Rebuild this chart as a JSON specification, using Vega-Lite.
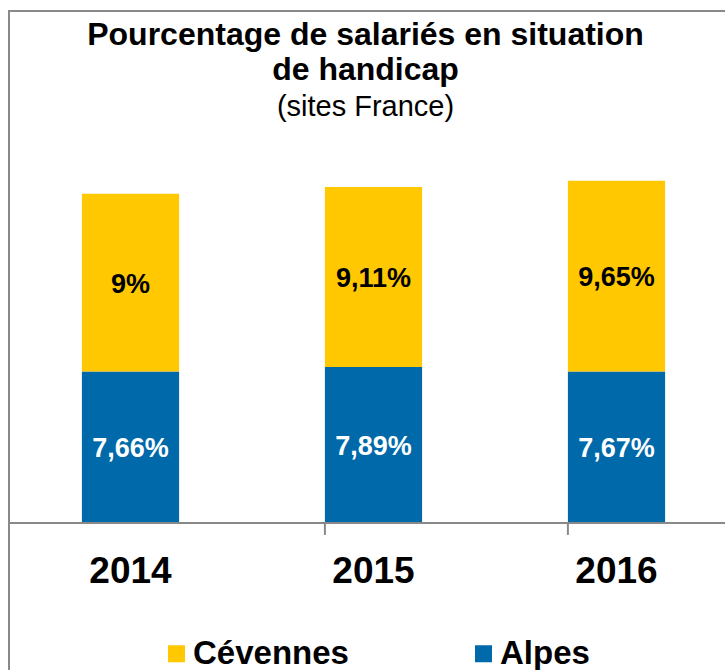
{
  "$schema": "https://vega.github.io/schema/vega-lite/v6.json",
  "autosize": {"type": "none"},
  "padding": {"left": 9, "top": 11, "right": 0, "bottom": 0},
  "width": 729,
  "height": 690,
  "background": "white",
  "config": {
    "font": "Liberation Sans",
    "view": {"stroke": "#898989", "strokeWidth": 2}
  },
  "title": {
    "text": ["Pourcentage de salariés en situation", "de handicap"],
    "subtitle": "(sites France)",
    "fontSize": 32,
    "fontWeight": "bold",
    "color": "black",
    "lineHeight": 35,
    "subtitleFontSize": 29,
    "subtitleFontWeight": "normal",
    "subtitleColor": "black",
    "subtitlePadding": 6,
    "anchor": "middle",
    "frame": "group",
    "offset": -112,
    "dx": -8
  },
  "data": {
    "values": [
      {"year": "2014", "serie": "Alpes", "value": 7.66},
      {"year": "2014", "serie": "Cévennes", "value": 9},
      {"year": "2015", "serie": "Alpes", "value": 7.89},
      {"year": "2015", "serie": "Cévennes", "value": 9.11},
      {"year": "2016", "serie": "Alpes", "value": 7.67},
      {"year": "2016", "serie": "Cévennes", "value": 9.65}
    ]
  },
  "layer": [
    {
      "mark": {"type": "bar"},
      "encoding": {
        "x": {
          "field": "year",
          "type": "nominal",
          "scale": {"paddingInner": 0.6, "paddingOuter": 0.3},
          "axis": {
            "title": null,
            "orient": "bottom",
            "offset": -178,
            "domain": false,
            "ticks": false,
            "tickSize": 0,
            "labelPadding": 59,
            "labelBaseline": "alphabetic",
            "labelFontSize": 37,
            "labelFontWeight": "bold",
            "labelColor": "black",
            "labelAngle": 0
          }
        },
        "y": {
          "field": "value",
          "type": "quantitative",
          "stack": "zero",
          "scale": {"domain": [-9, 25.9], "nice": false, "zero": false},
          "axis": null
        },
        "color": {
          "field": "serie",
          "type": "nominal",
          "scale": {"domain": ["Cévennes", "Alpes"], "range": ["#FFC800", "#0069AA"]},
          "legend": {
            "title": null,
            "orient": "none",
            "legendX": 151,
            "legendY": 626,
            "direction": "horizontal",
            "symbolType": "square",
            "symbolSize": 289,
            "symbolStrokeWidth": 0,
            "symbolOpacity": 1,
            "labelFontSize": 33,
            "labelFontWeight": "bold",
            "labelColor": "black",
            "labelOffset": 0,
            "labelLimit": 0,
            "columnPadding": 118,
            "padding": 0
          }
        },
        "order": {"field": "serie", "sort": "ascending"}
      }
    },
    {
      "transform": [
        {"stack": "value", "groupby": ["year"], "sort": [{"field": "serie", "order": "ascending"}], "as": ["v0", "v1"]},
        {"calculate": "(datum.v0 + datum.v1) / 2", "as": "mid"},
        {"calculate": "replace(toString(datum.value), '.', ',') + '%'", "as": "label"}
      ],
      "mark": {"type": "text", "fontSize": 27, "fontWeight": "bold", "baseline": "middle", "dy": 2},
      "encoding": {
        "x": {"field": "year", "type": "nominal"},
        "y": {"field": "mid", "type": "quantitative"},
        "text": {"field": "label"},
        "color": {"condition": {"test": "datum.serie === 'Alpes'", "value": "white"}, "value": "black"}
      }
    },
    {
      "mark": {"type": "rule", "color": "#898989", "strokeWidth": 2},
      "encoding": {"y": {"datum": 0, "type": "quantitative"}}
    },
    {
      "data": {"values": [{"year": "2015"}, {"year": "2016"}]},
      "mark": {"type": "rule", "color": "#898989", "strokeWidth": 2},
      "encoding": {
        "x": {"field": "year", "type": "nominal", "bandPosition": 0},
        "y": {"datum": 0, "type": "quantitative"},
        "y2": {"datum": -0.6}
      }
    }
  ]
}
